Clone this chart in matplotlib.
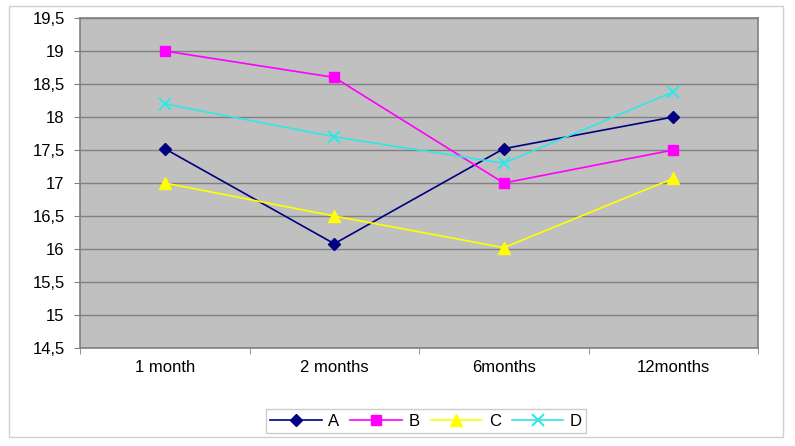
import numpy as np
import matplotlib.pyplot as plt
from matplotlib.patches import Rectangle
from matplotlib.ticker import FixedLocator, FuncFormatter

plt.rcParams['font.family'] = ['Liberation Sans', 'DejaVu Sans']

# Data
categories = ["1 month", "2 months", "6months", "12months"]
series_a = [17.52, 16.08, 17.52, 18.0]
series_b = [19.0, 18.6, 17.0, 17.5]
series_c = [17.0, 16.5, 16.02, 17.07]
series_d = [18.2, 17.7, 17.3, 18.38]

fig = plt.figure(figsize=(7.95, 4.46), dpi=100)
fig.patch.set_facecolor("white")

# outer chart frame
fig.patches.append(Rectangle((9 / 795, 9 / 446), 774 / 795, 431 / 446,
                             transform=fig.transFigure, fill=False,
                             edgecolor="#d0d0d0", lw=1))

ax = fig.add_axes([80 / 795, 98 / 446, 678 / 795, 330 / 446])
ax.set_facecolor("#c0c0c0")

x = np.arange(len(categories))

ax.plot(x, series_a, color="#000080", marker="D", markersize=6, lw=1.2, label="A")
ax.plot(x, series_b, color="#ff00ff", marker="s", markersize=7, lw=1.2, label="B")
ax.plot(x, series_c, color="#ffff00", marker="^", markersize=8, lw=1.2, label="C")
ax.plot(x, series_d, color="#33e6e6", marker="x", markersize=9, mew=1.5, lw=1.2, label="D")

ax.set_xlim(-0.5, len(categories) - 0.5)
ax.set_ylim(14.5, 19.5)

yticks = np.arange(14.5, 19.51, 0.5)
ax.yaxis.set_major_locator(FixedLocator(yticks))
ax.yaxis.set_major_formatter(FuncFormatter(lambda v, p: f"{v:g}".replace(".", ",")))
ax.grid(axis="y", color="#808080", lw=1)
ax.set_axisbelow(True)

ax.set_xticks(x)
ax.set_xticklabels(categories)
ax.set_xticks(np.arange(-0.5, len(categories)), minor=True)
ax.tick_params(axis="x", which="major", length=0, pad=9, labelsize=12)
ax.tick_params(axis="x", which="minor", length=4, color="#808080")
ax.tick_params(axis="y", length=4, color="#808080", pad=7, labelsize=12)

for side in ax.spines.values():
    side.set_color("#808080")
    side.set_linewidth(1.2)

fig.legend(loc="center", bbox_to_anchor=(426 / 795, 1 - 421 / 446), ncol=4,
           frameon=True, fancybox=False, edgecolor="#c0c0c0", fontsize=12,
           handlelength=3.1, columnspacing=0.65, handletextpad=0.4,
           borderpad=0.25, borderaxespad=0)

plt.savefig("out.png", dpi=100)
